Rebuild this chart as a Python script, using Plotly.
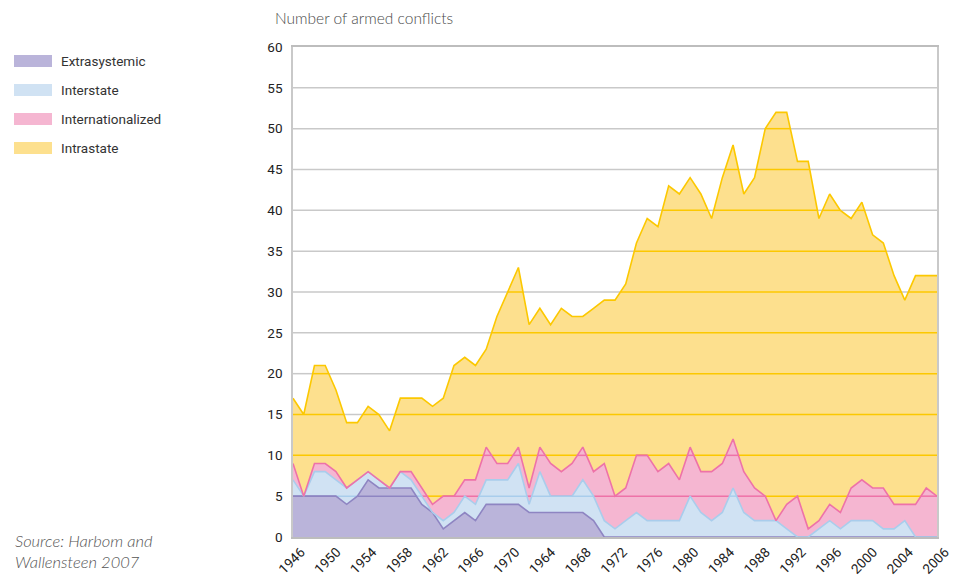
import numpy as np
import plotly.graph_objects as go

years = list(range(1946, 2007))

extrasystemic = [5, 5, 5, 5, 5, 4, 5, 7, 6, 6,
                 6, 6, 4, 3, 1, 2, 3, 2, 4, 4,
                 4, 4, 3, 3, 3, 3, 3, 3, 2, 0,
                 0, 0, 0, 0, 0, 0, 0, 0, 0, 0,
                 0, 0, 0, 0, 0, 0, 0, 0, 0, 0,
                 0, 0, 0, 0, 0, 0, 0, 0, 0, 0, 0]
interstate = [2, 0, 3, 3, 2, 2, 2, 1, 1, 0,
              2, 1, 1, 0, 1, 1, 2, 2, 3, 3,
              3, 5, 1, 5, 2, 2, 2, 4, 3, 2,
              1, 2, 3, 2, 2, 2, 2, 5, 3, 2,
              3, 6, 3, 2, 2, 2, 1, 0, 0, 1,
              2, 1, 2, 2, 2, 1, 1, 2, 0, 0, 0]
internationalized = [2, 0, 1, 1, 1, 0, 0, 0, 0, 0,
                     0, 1, 1, 1, 3, 2, 2, 3, 4, 2,
                     2, 2, 2, 3, 4, 3, 4, 4, 3, 7,
                     4, 4, 7, 8, 6, 7, 5, 6, 5, 6,
                     6, 6, 5, 4, 3, 0, 3, 5, 1, 1,
                     2, 2, 4, 5, 4, 5, 3, 2, 4, 6, 5]
intrastate = [8, 10, 12, 12, 10, 8, 7, 8, 8, 7,
              9, 9, 11, 12, 12, 16, 15, 14, 12, 18,
              21, 22, 20, 17, 17, 20, 18, 16, 20, 20,
              24, 25, 26, 29, 30, 34, 35, 33, 34, 31,
              35, 36, 34, 38, 45, 50, 48, 41, 45, 37,
              38, 37, 33, 34, 31, 30, 28, 25, 28, 26, 27]

series_names = ["Extrasystemic", "Interstate", "Internationalized", "Intrastate"]
series_values = [extrasystemic, interstate, internationalized, intrastate]
fill_colors = ["#bab4da", "#d0e2f3", "#f5b6d1", "#fde08e"]
line_colors = ["#8e85c2", "#a9cdec", "#ee72a8", "#fcc800"]

x_ticklabels = ["1946", "1950", "1954", "1958", "1962", "1966", "1970", "1964", "1968",
                "1972", "1976", "1980", "1984", "1988", "1992", "1996", "2000", "2004", "2006"]
y_ticks = list(range(0, 61, 5))

NARROW = "Liberation Sans Narrow, Roboto, sans-serif"
GRID_GRAY = "#c9c9c9"

fig = go.Figure()

# stacked fills
for name, vals, fc in zip(series_names, series_values, fill_colors):
    fig.add_trace(go.Scatter(x=years, y=vals, name=name, stackgroup="fill",
                             mode="lines", line=dict(width=0, color=fc),
                             fillcolor=fc, showlegend=False, hoverinfo="skip"))

# gridlines tinted by the band they cross
cum = np.cumsum(np.array(series_values, dtype=float), axis=0)
lowers = [np.zeros(len(years))] + [cum[i - 1] for i in range(1, 4)]
uppers = [cum[i] for i in range(4)]
xs = np.array(years, dtype=float)


def band_segments(low, up, g):
    segs = []
    for j in range(len(xs) - 1):
        a, b = 0.0, 1.0
        for (v0, v1, sense) in ((low[j], low[j + 1], "le"), (up[j], up[j + 1], "ge")):
            d = v1 - v0
            if sense == "le":  # v(t) <= g
                if d == 0:
                    if v0 > g:
                        a, b = 1.0, 0.0
                else:
                    t = (g - v0) / d
                    if d > 0:
                        b = min(b, t)
                    else:
                        a = max(a, t)
            else:  # v(t) >= g
                if d == 0:
                    if v0 < g:
                        a, b = 1.0, 0.0
                else:
                    t = (g - v0) / d
                    if d > 0:
                        a = max(a, t)
                    else:
                        b = min(b, t)
        if b - a > 1e-9:
            x0 = xs[j] + a * (xs[j + 1] - xs[j])
            x1 = xs[j] + b * (xs[j + 1] - xs[j])
            if segs and abs(segs[-1][1] - x0) < 1e-9:
                segs[-1][1] = x1
            else:
                segs.append([x0, x1])
    return segs


grid_levels = [v for v in y_ticks if 0 < v < 60]
bands = list(zip(lowers, uppers, line_colors)) + [(cum[3], np.full(len(xs), 1e9), GRID_GRAY)]
for low, up, col in bands:
    gx, gy = [], []
    for g in grid_levels:
        for x0, x1 in band_segments(low, up, g):
            gx += [x0, x1, None]
            gy += [g, g, None]
    if gx:
        fig.add_trace(go.Scatter(x=gx, y=gy, mode="lines", line=dict(color=col, width=1.5),
                                 showlegend=False, hoverinfo="skip"))

# stacked outlines
for name, vals, lc in zip(series_names, series_values, line_colors):
    fig.add_trace(go.Scatter(x=years, y=vals, name=name, stackgroup="lines", fill="none",
                             mode="lines", line=dict(width=1.6, color=lc),
                             showlegend=False))

# page body has an 8px margin: the figure starts at (8, 8) in the window
OFF = 8
W, H = 961 - OFF, 580 - OFF
L, T = 293 - OFF, 47 - OFF
R = W - (937 - OFF)
B = H - (537 - OFF)
PW, PH = W - L - R, H - T - B


def px(xp):  # window pixel -> paper
    return (xp - OFF - L) / PW


def py(yp):
    return (T + PH - (yp - OFF)) / PH


shapes = []
annotations = []
legend_y = [61, 90, 119, 148]
for name, fc, yc in zip(series_names, fill_colors, legend_y):
    shapes.append(dict(type="rect", xref="paper", yref="paper",
                       x0=px(14), x1=px(52), y0=py(yc + 6), y1=py(yc - 6),
                       fillcolor=fc, line=dict(width=0)))
    annotations.append(dict(text=name, xref="paper", yref="paper", x=px(59), y=py(yc),
                            xanchor="left", yanchor="middle", showarrow=False,
                            font=dict(family=NARROW, size=13.5, color="#333333")))

annotations.append(dict(text="Number of armed conflicts", xref="paper", yref="paper",
                        x=px(273), y=py(18), xanchor="left", yanchor="middle", showarrow=False,
                        font=dict(family="Lato, sans-serif", size=15.5, color="#4a4a4a",
                                  weight=300)))
annotations.append(dict(text="<i>Source: Harbom and</i>", xref="paper", yref="paper",
                        x=px(13), y=py(541), xanchor="left", yanchor="middle", showarrow=False,
                        font=dict(family="Lato, sans-serif", size=16.5, color="#555555",
                                  weight=300)))
annotations.append(dict(text="<i>Wallensteen 2007</i>", xref="paper", yref="paper",
                        x=px(13), y=py(562), xanchor="left", yanchor="middle", showarrow=False,
                        font=dict(family="Lato, sans-serif", size=16.5, color="#555555",
                                  weight=300)))

fig.update_layout(
    width=W, height=H,
    margin=dict(l=L, r=R, t=T, b=B, pad=0, autoexpand=False),
    paper_bgcolor="white", plot_bgcolor="white",
    showlegend=False,
    shapes=shapes, annotations=annotations,
    xaxis=dict(range=[1946, 2006], tickmode="array", automargin=False,
               tickvals=[1946 + i * 60 / 18 for i in range(len(x_ticklabels))],
               ticktext=x_ticklabels, tickangle=-45, ticks="", showgrid=False,
               zeroline=False, showline=True, linecolor="#bdbdbd", linewidth=2, mirror=True,
               ticklabelshift=8,
               tickfont=dict(family=NARROW, size=13.5, color="#222222")),
    yaxis=dict(range=[0, 60], tickmode="array", tickvals=y_ticks, ticks="", automargin=False,
               showgrid=False, zeroline=False, showline=True, linecolor=GRID_GRAY,
               linewidth=1.5, mirror=True, ticklabelstandoff=6,
               tickfont=dict(family=NARROW, size=13.5, color="#222222")),
)

fig.write_html("out.html")
